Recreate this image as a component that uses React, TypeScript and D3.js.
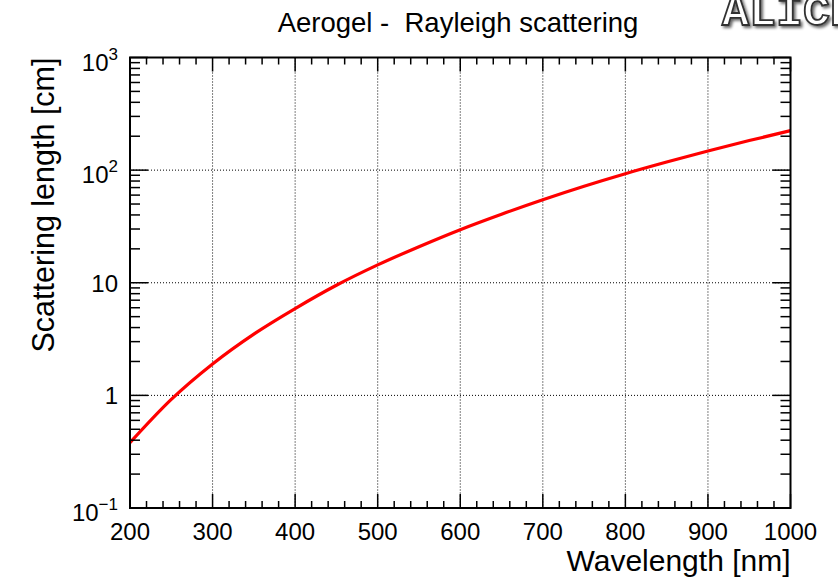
import React from "react";
import * as d3 from "d3";

// Rayleigh scattering length of aerogel vs wavelength
const wavelengths = [200, 250, 300, 350, 400, 450, 500, 550, 600, 650, 700, 750, 800, 850, 900, 950, 1000];
const scatteringLength = [0.38, 0.92, 1.9, 3.5, 5.9, 9.5, 14.4, 20.9, 29.6, 40.6, 54.6, 72, 93, 118, 148, 183, 224];

const xMajorTicks = [200, 300, 400, 500, 600, 700, 800, 900, 1000];
const yMajorTicks = [0.1, 1, 10, 100, 1000];
const yTickLabels = [
  { base: "10", exp: "\u22121" },
  { base: "1", exp: "" },
  { base: "10", exp: "" },
  { base: "10", exp: "2" },
  { base: "10", exp: "3" },
];

const W = 838;
const H = 583;
const frame = { left: 130, right: 790.5, top: 57.5, bottom: 508 };
const FONT = "'Liberation Sans', Arial, Helvetica, sans-serif";

export default function App() {
  const x = d3.scaleLinear().domain([200, 1000]).range([frame.left, frame.right]);
  const y = d3.scaleLog().domain([0.1, 1000]).range([frame.bottom, frame.top]);

  const points = wavelengths.map((w, i) => [w, scatteringLength[i]] as [number, number]);
  const line = d3
    .line<[number, number]>()
    .x((d) => x(d[0]))
    .y((d) => y(d[1]))
    .curve(d3.curveMonotoneX);

  const xMinor = d3.range(200, 1001, 20).filter((v) => v % 100 !== 0);
  const yMinor: number[] = [];
  [0.1, 1, 10, 100].forEach((dec) => {
    for (let k = 2; k <= 9; k++) yMinor.push(dec * k);
  });

  const xMajLen = 14;
  const xMinLen = 7;
  const yMajLen = 18;
  const yMinLen = 10;

  return (
    <svg
      width={W}
      height={H}
      style={{ position: "absolute", left: 0, top: 0, background: "#fff" }}
      fontFamily={FONT}
    >
      <defs>
        <filter id="logoShadow" x="-10%" y="-30%" width="130%" height="170%">
          <feGaussianBlur in="SourceAlpha" stdDeviation="1.8" />
          <feOffset dx="1.5" dy="2" result="b" />
          <feComponentTransfer>
            <feFuncA type="linear" slope="0.6" />
          </feComponentTransfer>
          <feMerge>
            <feMergeNode />
            <feMergeNode in="SourceGraphic" />
          </feMerge>
        </filter>
      </defs>
      <rect x={0} y={0} width={W} height={H} fill="#fff" />

      {/* Logo at the top-right corner */}
      <text
        x={722}
        y={25}
        fontFamily="'Liberation Mono', 'DejaVu Sans Mono', monospace"
        fontSize={45}
        fontWeight="bold"
        fill="#fff"
        stroke="#333"
        strokeWidth={1.8}
        filter="url(#logoShadow)"
      >
        ALICE
      </text>

      {/* Grid */}
      <g stroke="#000" strokeWidth={1} strokeDasharray="1 2">
        {xMajorTicks
          .filter((v) => v !== 200 && v !== 1000)
          .map((v) => (
            <line key={"gx" + v} x1={x(v)} x2={x(v)} y1={frame.top} y2={frame.bottom} />
          ))}
        {yMajorTicks
          .filter((v) => v !== 0.1 && v !== 1000)
          .map((v) => (
            <line key={"gy" + v} x1={frame.left} x2={frame.right} y1={y(v)} y2={y(v)} />
          ))}
      </g>

      {/* Curve */}
      <path d={line(points) ?? ""} fill="none" stroke="#ff0000" strokeWidth={3.2} strokeLinejoin="round" />

      {/* Ticks */}
      <g stroke="#000" strokeWidth={1.5}>
        {xMajorTicks.map((v) => (
          <g key={"xt" + v}>
            <line x1={x(v)} x2={x(v)} y1={frame.bottom} y2={frame.bottom - xMajLen} />
            <line x1={x(v)} x2={x(v)} y1={frame.top} y2={frame.top + xMajLen} />
          </g>
        ))}
        {xMinor.map((v) => (
          <g key={"xm" + v}>
            <line x1={x(v)} x2={x(v)} y1={frame.bottom} y2={frame.bottom - xMinLen} />
            <line x1={x(v)} x2={x(v)} y1={frame.top} y2={frame.top + xMinLen} />
          </g>
        ))}
        {yMajorTicks.map((v) => (
          <g key={"yt" + v}>
            <line x1={frame.left} x2={frame.left + yMajLen} y1={y(v)} y2={y(v)} />
            <line x1={frame.right} x2={frame.right - yMajLen} y1={y(v)} y2={y(v)} />
          </g>
        ))}
        {yMinor.map((v) => (
          <g key={"ym" + v}>
            <line x1={frame.left} x2={frame.left + yMinLen} y1={y(v)} y2={y(v)} />
            <line x1={frame.right} x2={frame.right - yMinLen} y1={y(v)} y2={y(v)} />
          </g>
        ))}
      </g>

      {/* Frame */}
      <rect
        x={frame.left}
        y={frame.top}
        width={frame.right - frame.left}
        height={frame.bottom - frame.top}
        fill="none"
        stroke="#000"
        strokeWidth={2}
      />

      {/* X tick labels */}
      <g fontSize={24} fill="#000" textAnchor="middle">
        {xMajorTicks.map((v) => (
          <text key={"xl" + v} x={x(v)} y={540}>
            {v}
          </text>
        ))}
      </g>

      {/* Y tick labels */}
      <g fontSize={24} fill="#000" textAnchor="end">
        {yMajorTicks.map((v, i) => {
          const lab = yTickLabels[i];
          const yy = y(v);
          if (lab.exp) {
            return (
              <text key={"yl" + v} x={118} y={yy + 13}>
                {lab.base}
                <tspan fontSize={17} dy={-11}>
                  {lab.exp}
                </tspan>
              </text>
            );
          }
          return (
            <text key={"yl" + v} x={118} y={yy + 9}>
              {lab.base}
            </text>
          );
        })}
      </g>

      {/* Axis titles */}
      <text x={frame.right} y={571} fontSize={30} textAnchor="end" fill="#000">
        Wavelength [nm]
      </text>
      <text
        transform={`translate(54, ${frame.top}) rotate(-90)`}
        fontSize={30.5}
        textAnchor="end"
        fill="#000"
      >
        Scattering length [cm]
      </text>

      {/* Title */}
      <text x={458} y={32} fontSize={27.5} textAnchor="middle" fill="#000" style={{ whiteSpace: "pre" }}>
        {"Aerogel -  Rayleigh scattering"}
      </text>
    </svg>
  );
}
